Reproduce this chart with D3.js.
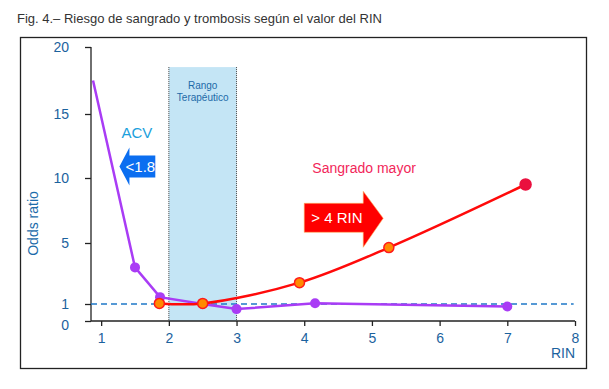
<!DOCTYPE html>
<html>
<head>
<meta charset="utf-8">
<script src="https://cdn.jsdelivr.net/npm/d3@7"></script>
<style>
  body { margin: 0; background: #fff; }
  svg { display: block; font-family: "Liberation Sans", Arial, sans-serif; }
</style>
</head>
<body>
<div id="chart"></div>
<script>
// --- data ---
const xTicks = [1, 2, 3, 4, 5, 6, 7, 8];
const yTicks = [0, 1, 5, 10, 15, 20];

// thrombosis (ACV) series
const acvX = [0.88, 1.5, 1.87, 2.5, 3.0, 4.16, 7.0];
const acvY = [17.5, 3.4, 1.45, 1.0, 0.7, 1.05, 0.85];
const acvMarker = [false, true, true, true, true, true, true];

// major bleeding series
const bleedX = [1.86, 2.5, 3.93, 5.25, 7.27];
const bleedY = [1.04, 1.04, 2.4, 4.7, 9.5];

const refLine = 1;
const therapeuticRange = [2, 3];
const rangeTop = 18.5;

// --- layout ---
const W = 609, H = 389;
const svg = d3.select('#chart').append('svg')
  .attr('width', W).attr('height', H);

// title + frame
svg.append('text')
  .attr('x', 17).attr('y', 23)
  .attr('font-size', 13)
  .attr('fill', '#333')
  .text('Fig. 4.– Riesgo de sangrado y trombosis según el valor del RIN');

svg.append('rect')
  .attr('x', 20.5).attr('y', 37.5)
  .attr('width', 566).attr('height', 331)
  .attr('fill', 'none')
  .attr('stroke', '#222')
  .attr('stroke-width', 1.3);

// scales: the y axis in the figure is not linear near the bottom
const x = d3.scaleLinear().domain([0.85, 8]).range([91, 575]);
const y = d3.scaleLinear()
  .domain([0, 1, 5, 10, 15, 20])
  .range([321, 304, 243, 178, 114, 47]);

const axisBlue = '#1b629e';

// therapeutic range band
const band = svg.append('g');
band.append('rect')
  .attr('x', x(therapeuticRange[0]))
  .attr('y', y(rangeTop))
  .attr('width', x(therapeuticRange[1]) - x(therapeuticRange[0]))
  .attr('height', y(0) - y(rangeTop))
  .attr('fill', '#c4e5f5');
therapeuticRange.forEach(v => {
  band.append('line')
    .attr('x1', x(v)).attr('x2', x(v))
    .attr('y1', y(rangeTop)).attr('y2', y(0))
    .attr('stroke', '#444')
    .attr('stroke-width', 1)
    .attr('stroke-dasharray', '1,1');
});
const bandMid = x((therapeuticRange[0] + therapeuticRange[1]) / 2);
band.append('text')
  .attr('x', bandMid).attr('y', y(rangeTop) + 22)
  .attr('text-anchor', 'middle')
  .attr('font-size', 10)
  .attr('fill', '#1d6aa8')
  .text('Rango');
band.append('text')
  .attr('x', bandMid).attr('y', y(rangeTop) + 34)
  .attr('text-anchor', 'middle')
  .attr('font-size', 10)
  .attr('fill', '#1d6aa8')
  .text('Terapéutico');

// axes
const yAxis = svg.append('g')
  .attr('transform', `translate(${x.range()[0]},0)`)
  .call(d3.axisLeft(y).tickValues(yTicks).tickSize(6).tickFormat(d3.format('d')));
yAxis.select('.domain').attr('d', `M0,${y(20)}V${y(0)}`).attr('stroke', '#222').attr('stroke-width', 1.3);
yAxis.selectAll('.tick line').attr('stroke', '#222').attr('stroke-width', 1.3);
yAxis.selectAll('.tick text')
  .attr('x', -22)
  .attr('font-size', 14)
  .attr('font-family', '"Liberation Sans", Arial, sans-serif')
  .attr('fill', axisBlue);
yAxis.selectAll('.tick').filter(d => d === 0).select('text').attr('dy', '0.6em');

const xAxis = svg.append('g')
  .attr('transform', `translate(0,${y(0)})`)
  .call(d3.axisBottom(x).tickValues(xTicks).tickSize(5).tickFormat(d3.format('d')));
xAxis.select('.domain').attr('d', `M${x.range()[0]},0H${x(8)}`).attr('stroke', '#222').attr('stroke-width', 1.3);
xAxis.selectAll('.tick line').attr('stroke', '#222').attr('stroke-width', 1.3);
xAxis.selectAll('.tick text')
  .attr('y', 12)
  .attr('font-size', 14)
  .attr('font-family', '"Liberation Sans", Arial, sans-serif')
  .attr('fill', axisBlue);

svg.append('text')
  .attr('x', x(8)).attr('y', 358)
  .attr('text-anchor', 'end')
  .attr('font-size', 14)
  .attr('fill', axisBlue)
  .text('RIN');

svg.append('text')
  .attr('transform', `translate(38,${y(6.5)}) rotate(-90)`)
  .attr('text-anchor', 'middle')
  .attr('font-size', 14)
  .attr('fill', '#1b6caa')
  .text('Odds ratio');

// reference line at OR = 1
svg.append('line')
  .attr('x1', x.range()[0]).attr('x2', x(7.98))
  .attr('y1', y(refLine)).attr('y2', y(refLine))
  .attr('stroke', '#1f78c8')
  .attr('stroke-width', 1.3)
  .attr('stroke-dasharray', '6,4');

// ACV series
const purple = '#a93cf5';
const acv = acvX.map((v, i) => ({ x: v, y: acvY[i], m: acvMarker[i] }));
svg.append('path')
  .datum(acv)
  .attr('fill', 'none')
  .attr('stroke', purple)
  .attr('stroke-width', 2.5)
  .attr('d', d3.line().x(d => x(d.x)).y(d => y(d.y)));
svg.selectAll('circle.acv')
  .data(acv.filter(d => d.m))
  .join('circle')
    .attr('class', 'acv')
    .attr('cx', d => x(d.x)).attr('cy', d => y(d.y))
    .attr('r', 5)
    .attr('fill', purple);

// bleeding series
const bleed = bleedX.map((v, i) => ({ x: v, y: bleedY[i] }));
svg.append('path')
  .datum(bleed)
  .attr('fill', 'none')
  .attr('stroke', '#ff0a0a')
  .attr('stroke-width', 2.5)
  .attr('d', d3.line().curve(d3.curveCatmullRom).x(d => x(d.x)).y(d => y(d.y)));
svg.selectAll('circle.bleed')
  .data(bleed)
  .join('circle')
    .attr('class', 'bleed')
    .attr('cx', d => x(d.x)).attr('cy', d => y(d.y))
    .attr('r', (d, i) => i === bleed.length - 1 ? 5.5 : 5)
    .attr('fill', (d, i) => i === bleed.length - 1 ? '#ea0f3e' : '#ff8a00')
    .attr('stroke', (d, i) => i === bleed.length - 1 ? '#ea0f3e' : '#ff1a1a')
    .attr('stroke-width', 1.5);

// annotations
svg.append('text')
  .attr('x', x(1.3)).attr('y', y(13.1))
  .attr('font-size', 15)
  .attr('fill', '#1aa0dc')
  .text('ACV');

// blue arrow pointing left (< 1.8)
const bTipX = x(1.27), bTipY = y(10.9), bRight = x(1.8);
svg.append('path')
  .attr('d', `M${bTipX},${bTipY} L${bTipX + 10},${bTipY - 19} V${bTipY - 11} H${bRight} V${bTipY + 11} H${bTipX + 10} V${bTipY + 19} Z`)
  .attr('fill', '#0b6ef0');
svg.append('text')
  .attr('x', (bTipX + 6 + bRight) / 2).attr('y', bTipY + 6)
  .attr('text-anchor', 'middle')
  .attr('font-size', 15)
  .attr('fill', '#fff')
  .text('<1.8');

svg.append('text')
  .attr('x', x(4.12)).attr('y', y(10.4))
  .attr('font-size', 14)
  .attr('fill', '#f2275a')
  .text('Sangrado  mayor');

// red arrow pointing right (> 4 RIN)
const rLeft = x(4), rMidY = y(6.9);
svg.append('path')
  .attr('d', `M${rLeft},${rMidY - 15} H${rLeft + 59} V${rMidY - 27} L${rLeft + 79},${rMidY} L${rLeft + 59},${rMidY + 29} V${rMidY + 14} H${rLeft} Z`)
  .attr('fill', '#ff0000')
  .attr('stroke', '#ffb060')
  .attr('stroke-width', 0.6);
svg.append('text')
  .attr('x', rLeft + 7).attr('y', rMidY + 5)
  .attr('font-size', 15)
  .attr('fill', '#fff')
  .text('> 4 RIN');
</script>
</body>
</html>
